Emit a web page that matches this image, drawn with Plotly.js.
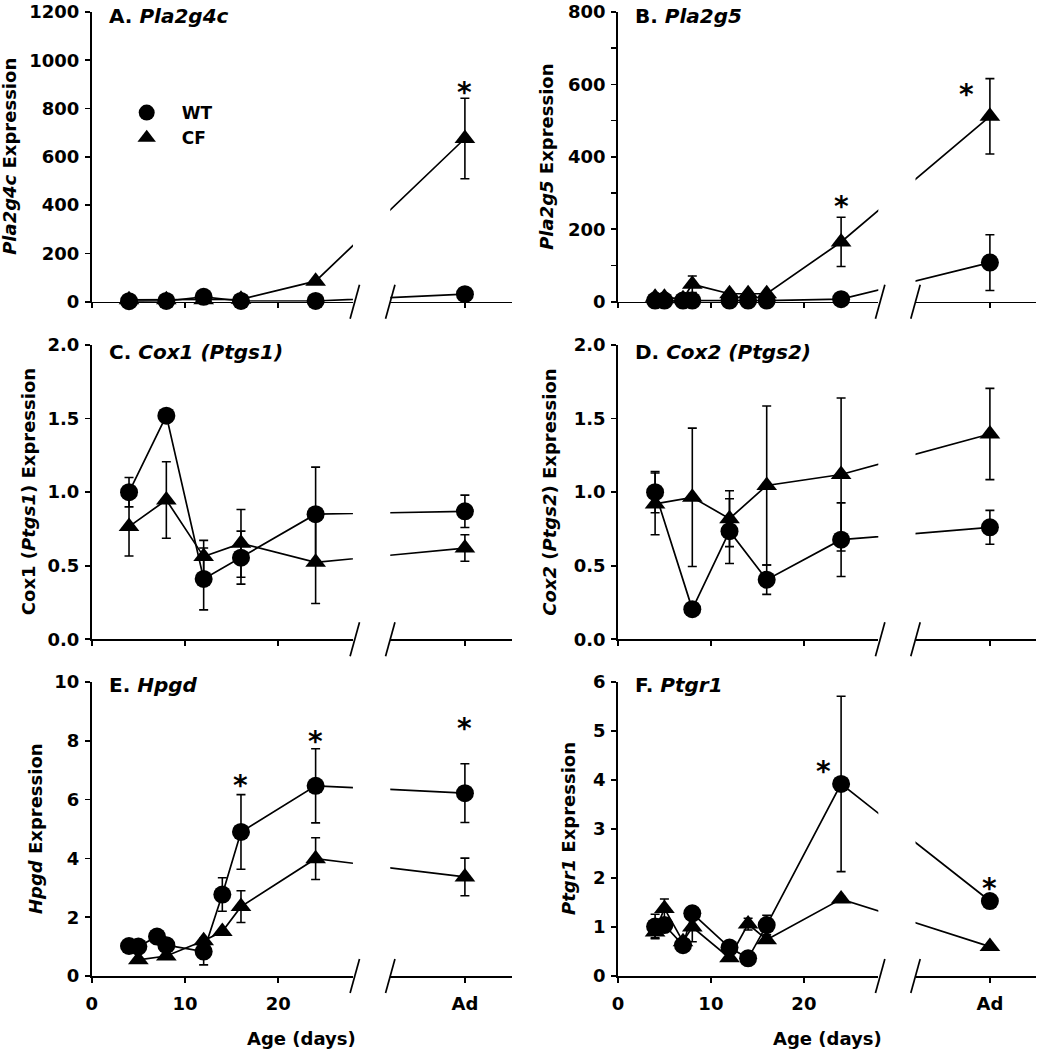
<!DOCTYPE html>
<html><head><meta charset="utf-8">
<script src="https://cdn.plot.ly/plotly-3.0.1.min.js"></script>
<style>html,body{margin:0;padding:0;background:#fff}#chart{width:1039px;height:1050px}</style>
</head><body><div id="chart"></div>
<script>
// ---------------- data ----------------
const xTickVals = [0, 10, 20];
const xTickText = ['0', '10', '20'];
const adLabel = 'Ad';

// A. Pla2g4c
const daysA = [4, 8, 12, 16, 24, 'Ad'];
const wtA = [2, 3, 20, 3, 3, 31];
const wtErrA = [0, 0, 0, 0, 0, 0];
const cfA = [8, 8, 8, 10, 85, 676];
const cfErrA = [0, 0, 0, 0, 0, 167];
const yTicksA = [0, 200, 400, 600, 800, 1000, 1200];
const yLabelsA = ['0', '200', '400', '600', '800', '1000', '1200'];
const starsXA = ['Ad'];
const starsYA = [907];

// B. Pla2g5
const daysB = [4, 5, 7, 8, 12, 14, 16, 24, 'Ad'];
const wtB = [3, 3, 3, 3, 3, 3, 3, 7, 108];
const wtErrB = [0, 0, 0, 0, 0, 0, 0, 0, 77];
const cfB = [12, 12, 8, 48, 22, 22, 22, 165, 512];
const cfErrB = [0, 0, 0, 23, 0, 0, 0, 68, 104];
const yTicksB = [0, 100, 200, 300, 400, 500, 600, 700, 800];
const yLabelsB = ['0', '', '200', '', '400', '', '600', '', '800'];
const starsXB = [24, 37.5];
const starsYB = [291, 600];

// C. Cox1 (Ptgs1)
const daysC = [4, 8, 12, 16, 24, 'Ad'];
const wtC = [1.00, 1.52, 0.41, 0.555, 0.85, 0.87];
const wtErrC = [0.10, 0, 0.21, 0.18, 0.32, 0.11];
const cfC = [0.766, 0.947, 0.562, 0.652, 0.523, 0.62];
const cfErrC = [0.20, 0.26, 0.11, 0.23, 0.28, 0.09];
const yTicksC = [0, 0.5, 1, 1.5, 2];
const yLabelsC = ['0.0', '0.5', '1.0', '1.5', '2.0'];
const starsXC = [];
const starsYC = [];

// D. Cox2 (Ptgs2)
const daysD = [4, 8, 12, 16, 24, 'Ad'];
const wtD = [1.00, 0.205, 0.735, 0.405, 0.677, 0.761];
const wtErrD = [0.14, 0, 0.22, 0.10, 0.25, 0.115];
const cfD = [0.92, 0.965, 0.82, 1.045, 1.12, 1.395];
const cfErrD = [0.21, 0.47, 0.19, 0.54, 0.52, 0.31];
const yTicksD = [0, 0.5, 1, 1.5, 2];
const yLabelsD = ['0.0', '0.5', '1.0', '1.5', '2.0'];
const starsXD = [];
const starsYD = [];

// E. Hpgd
const daysE = [4, 5, 7, 8, 12, 14, 16, 24, 'Ad'];
const wtE = [1.02, 1.0, 1.34, 1.05, 0.83, 2.77, 4.9, 6.47, 6.22];
const wtErrE = [0, 0, 0, 0, 0.45, 0.57, 1.27, 1.26, 1.0];
const daysCfE = [5, 8, 12, 14, 16, 24, 'Ad'];
const cfE = [0.55, 0.68, 1.2, 1.51, 2.36, 3.99, 3.37];
const cfErrE = [0, 0, 0, 0, 0.54, 0.71, 0.64];
const yTicksE = [0, 2, 4, 6, 8, 10];
const yLabelsE = ['0', '2', '4', '6', '8', '10'];
const starsXE = [16, 24, 'Ad'];
const starsYE = [6.83, 8.3, 8.76];

// F. Ptgr1
const daysF = [4, 5, 7, 8, 12, 14, 16, 24, 'Ad'];
const wtF = [1.01, 1.04, 0.63, 1.28, 0.58, 0.36, 1.04, 3.92, 1.53];
const wtErrF = [0.25, 0, 0, 0, 0, 0, 0.2, 1.79, 0];
const cfF = [0.9, 1.38, 0.7, 1.0, 0.37, 1.06, 0.74, 1.57, 0.6];
const cfErrF = [0.12, 0.19, 0, 0.3, 0, 0.12, 0, 0.05, 0];
const yTicksF = [0, 1, 2, 3, 4, 5, 6];
const yLabelsF = ['0', '1', '2', '3', '4', '5', '6'];
const starsXF = [22.1, 'Ad'];
const starsYF = [4.38, 2.0];

const panelTitles = ['<b>A. <i>Pla2g4c</i></b>', '<b>B. <i>Pla2g5</i></b>', '<b>C. <i>Cox1 (Ptgs1)</i></b>',
  '<b>D. <i>Cox2 (Ptgs2)</i></b>', '<b>E. <i>Hpgd</i></b>', '<b>F. <i>Ptgr1</i></b>'];
const yTitles = ['<b><i>Pla2g4c</i> Expression</b>', '<b><i>Pla2g5</i> Expression</b>',
  '<b>Cox1 (<i>Ptgs1</i>) Expression</b>', '<b><i>Cox2</i> (<i>Ptgs2</i>) Expression</b>',
  '<b><i>Hpgd</i> Expression</b>', '<b><i>Ptgr1</i> Expression</b>'];
const xTitle = '<b>Age (days)</b>';
const seriesNames = ['WT', 'CF'];

// ---------------- layout geometry ----------------
const W = 1039, H = 1050;
const AD_X = 40;                 // axis position of the adult group
const BREAK_L = 28, BREAK_R = 32, X_MAX = 45;
const cols = [{x0: 91.7, s: 9.33}, {x0: 617.9, s: 9.3}];
const rows = [[12, 301.7], [345, 639.3], [682, 976]];
const titleY = [16, 352, 685.5];
const yTitleX = [10, 547, 28, 549.5, 35, 568];
const xTitleX = [301, 827];
const FONT = 'DejaVu Sans, Verdana, sans-serif';
const BLACK = '#000';

const panels = [
  {days: daysA, wt: wtA, wtErr: wtErrA, cfDays: daysA, cf: cfA, cfErr: cfErrA, yt: yTicksA, yl: yLabelsA, sx: starsXA, sy: starsYA},
  {days: daysB, wt: wtB, wtErr: wtErrB, cfDays: daysB, cf: cfB, cfErr: cfErrB, yt: yTicksB, yl: yLabelsB, sx: starsXB, sy: starsYB},
  {days: daysC, wt: wtC, wtErr: wtErrC, cfDays: daysC, cf: cfC, cfErr: cfErrC, yt: yTicksC, yl: yLabelsC, sx: starsXC, sy: starsYC},
  {days: daysD, wt: wtD, wtErr: wtErrD, cfDays: daysD, cf: cfD, cfErr: cfErrD, yt: yTicksD, yl: yLabelsD, sx: starsXD, sy: starsYD},
  {days: daysE, wt: wtE, wtErr: wtErrE, cfDays: daysCfE, cf: cfE, cfErr: cfErrE, yt: yTicksE, yl: yLabelsE, sx: starsXE, sy: starsYE},
  {days: daysF, wt: wtF, wtErr: wtErrF, cfDays: daysF, cf: cfF, cfErr: cfErrF, yt: yTicksF, yl: yLabelsF, sx: starsXF, sy: starsYF}
];

const toX = d => (d === 'Ad' ? AD_X : d);
const px = v => v / W;
const py = v => 1 - v / H;

const traces = [];
const layout = {
  width: W, height: H,
  margin: {l: 0, r: 0, t: 0, b: 0},
  paper_bgcolor: '#fff', plot_bgcolor: 'rgba(0,0,0,0)',
  font: {family: FONT, color: BLACK, size: 18},
  showlegend: true,
  legend: {
    x: px(111.7), y: py(95), xanchor: 'left', yanchor: 'top',
    bgcolor: 'rgba(0,0,0,0)', borderwidth: 0, itemwidth: 60, tracegroupgap: 0,
    font: {family: FONT, size: 17, weight: 'bold', color: BLACK}
  },
  annotations: [], shapes: []
};

panels.forEach((P, p) => {
  const col = cols[p % 2];
  const row = rows[Math.floor(p / 2)];
  const bottomRow = Math.floor(p / 2) === 2;
  const xl = 2 * p + 1, xr = 2 * p + 2, yn = p + 1;
  const xlName = 'xaxis' + (xl === 1 ? '' : xl), xrName = 'xaxis' + xr, ynName = 'yaxis' + (yn === 1 ? '' : yn);
  const xlRef = 'x' + (xl === 1 ? '' : xl), xrRef = 'x' + xr, yRef = 'y' + (yn === 1 ? '' : yn);
  const yMax = P.yt[P.yt.length - 1];

  const axisCommon = {
    showline: true, linewidth: 1.7, linecolor: BLACK, ticks: 'outside', ticklen: 5, tickwidth: 1.7,
    tickcolor: BLACK, showgrid: false, zeroline: false, layer: 'below traces', fixedrange: true,
    ticklabeloverflow: 'allow',
    tickfont: {family: FONT, size: 18, weight: 'bold', color: BLACK}
  };
  layout[xlName] = Object.assign({}, axisCommon, {
    domain: [px(col.x0), px(col.x0 + BREAK_L * col.s)], range: [0, BREAK_L], anchor: yRef,
    tickmode: 'array', tickvals: xTickVals, ticktext: xTickText, showticklabels: bottomRow, ticklabelstandoff: 6
  });
  layout[xrName] = Object.assign({}, axisCommon, {
    domain: [px(col.x0 + BREAK_R * col.s), px(col.x0 + X_MAX * col.s)], range: [BREAK_R, X_MAX], anchor: yRef,
    tickmode: 'array', tickvals: [AD_X], ticktext: [adLabel], showticklabels: bottomRow, ticklabelstandoff: 6
  });
  layout[ynName] = Object.assign({}, axisCommon, {
    domain: [py(row[1]), py(row[0])], range: [0, yMax], anchor: xlRef,
    tickmode: 'array', tickvals: P.yt, ticktext: P.yl, ticklabelstandoff: 2
  });

  const series = [
    {name: seriesNames[0], days: P.days, vals: P.wt, err: P.wtErr, symbol: 'circle', size: 18},
    {name: seriesNames[1], days: P.cfDays, vals: P.cf, err: P.cfErr, symbol: 'triangle-up', size: 18}
  ];
  series.forEach(S => {
    const xs = S.days.map(toX);
    [xlRef, xrRef].forEach(xa => {
      traces.push({
        type: 'scatter', mode: 'lines', x: xs, y: S.vals, xaxis: xa, yaxis: yRef,
        line: {color: BLACK, width: 1.7}, showlegend: false, hoverinfo: 'skip'
      });
    });
    [[xlRef, v => v <= BREAK_L], [xrRef, v => v >= BREAK_R]].forEach(([xa, keep], k) => {
      const idx = xs.map((v, i) => i).filter(i => keep(xs[i]));
      traces.push({
        type: 'scatter', mode: 'markers', name: S.name, legendgroup: S.name,
        showlegend: p === 0 && k === 0,
        x: idx.map(i => xs[i]), y: idx.map(i => S.vals[i]), xaxis: xa, yaxis: yRef,
        cliponaxis: false,
        marker: {symbol: S.symbol, size: S.size, color: BLACK, line: {width: 0}},
        error_y: {type: 'data', array: idx.map(i => (S.err[i] > 0 ? S.err[i] : NaN)), visible: true,
                  color: BLACK, thickness: 1.6, width: 4.5}
      });
    });
  });

  // stars
  P.sx.forEach((sx, i) => {
    const xv = toX(sx);
    layout.annotations.push({
      text: '<b>*</b>', x: xv, y: P.sy[i], xref: xv <= BREAK_L ? xlRef : xrRef, yref: yRef,
      showarrow: false, xanchor: 'center', yanchor: 'middle', yshift: -10,
      font: {family: FONT, size: 28, color: BLACK}
    });
  });

  // panel title
  layout.annotations.push({
    text: panelTitles[p], xref: 'paper', yref: 'paper', x: px(col.x0 + 15), y: py(titleY[Math.floor(p / 2)]),
    xanchor: 'left', yanchor: 'middle', showarrow: false, font: {family: FONT, size: 20, color: BLACK}
  });
  // y title
  layout.annotations.push({
    text: yTitles[p], xref: 'paper', yref: 'paper', x: px(yTitleX[p]), y: py((row[0] + row[1]) / 2),
    xanchor: 'center', yanchor: 'middle', textangle: -90, showarrow: false,
    font: {family: FONT, size: 18, color: BLACK}
  });
  if (bottomRow) {
    layout.annotations.push({
      text: xTitle, xref: 'paper', yref: 'paper', x: px(xTitleX[p % 2]), y: py(1038),
      xanchor: 'center', yanchor: 'middle', showarrow: false, font: {family: FONT, size: 18, color: BLACK}
    });
  }

  // axis break marks
  [col.x0 + 28.2 * col.s, col.x0 + BREAK_R * col.s].forEach(cx => {
    layout.shapes.push({
      type: 'line', xref: 'paper', yref: 'paper',
      x0: px(cx - 4.7), y0: py(row[1] + 17), x1: px(cx + 4.7), y1: py(row[1] - 17),
      line: {color: BLACK, width: 1.7}
    });
  });
});

Plotly.newPlot('chart', traces, layout, {displayModeBar: false, staticPlot: true});
</script></body></html>
